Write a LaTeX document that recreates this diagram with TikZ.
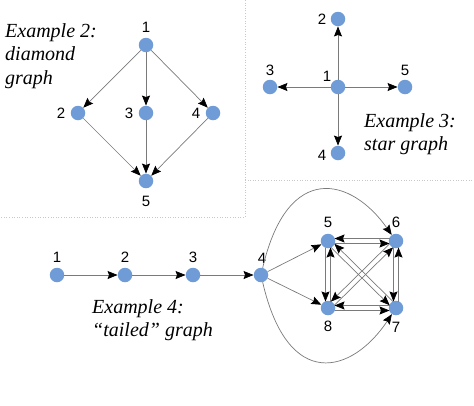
\documentclass[tikz,border=0pt]{standalone}
\usepackage{fontspec}
\setmainfont{Liberation Serif}
\newfontfamily\numfont{Liberation Sans}
\usetikzlibrary{arrows.meta,calc}
\definecolor{nodeblue}{HTML}{6F9BD6}
\definecolor{edgegray}{HTML}{7A7A7A}
\definecolor{boxgray}{HTML}{C8C8C8}
\tikzset{
  vtx/.style={circle,fill=nodeblue,draw=none,minimum size=14.5pt,inner sep=0pt},
  num/.style={font=\numfont\fontsize{15}{15}\selectfont,inner sep=0pt},
  caption/.style={font=\fontsize{20}{23.5}\selectfont\itshape,align=left,anchor=west,inner sep=0pt},
  edge/.style={draw=edgegray,line width=0.7pt,-{Stealth[length=10pt,width=8pt,inset=1.5pt,black]}},
  sep/.style={draw=boxgray,line width=0.6pt,dotted}
}
\newcommand{\biedge}[2]{%
  \draw[edge,shorten <=6.5pt,shorten >=6.5pt] ($(#1.center)!2.5pt!-90:(#2.center)$) -- ($(#2.center)!2.5pt!90:(#1.center)$);}
\begin{document}
\begin{tikzpicture}[x=1pt,y=-1pt]
\useasboundingbox (0,0) rectangle (474,405);
% separators
\coordinate (bx1) at (245,0);
\coordinate (bx2) at (245,217);
\coordinate (bx3) at (0,217);
\coordinate (bx4) at (245,180);
\coordinate (bx5) at (474,180);
\draw[sep] (bx1) -- (bx2) -- (bx3);
\draw[sep] (bx4) -- (bx5);

% Example 2: diamond
\node[vtx] (d1) at (146,45) {};
\node[vtx] (d2) at (78,113) {};
\node[vtx] (d3) at (146,113) {};
\node[vtx] (d4) at (213,113) {};
\node[vtx] (d5) at (146,181) {};
\node[num] (ld1) at (146,27) {1};
\node[num] (ld2) at (61,113) {2};
\node[num] (ld3) at (129,113) {3};
\node[num] (ld4) at (196,113) {4};
\node[num] (ld5) at (146,201) {5};
\draw[edge] (d1) -- (d2);
\draw[edge] (d1) -- (d3);
\draw[edge] (d1) -- (d4);
\draw[edge] (d2) -- (d5);
\draw[edge] (d3) -- (d5);
\draw[edge] (d4) -- (d5);
\node[caption] (c2) at (5,56) {Example 2:\\diamond\\graph};

% Example 3: star
\node[vtx] (s1) at (338,87) {};
\node[vtx] (s2) at (338,19) {};
\node[vtx] (s3) at (270,87) {};
\node[vtx] (s4) at (338,153) {};
\node[vtx] (s5) at (405,87) {};
\node[num] (ls1) at (327,76) {1};
\node[num] (ls2) at (322,19) {2};
\node[num] (ls3) at (270,70) {3};
\node[num] (ls4) at (322,155) {4};
\node[num] (ls5) at (405,70) {5};
\draw[edge] (s1) -- (s2);
\draw[edge] (s1) -- (s3);
\draw[edge] (s1) -- (s4);
\draw[edge] (s1) -- (s5);
\node[caption] (c3) at (364,134) {Example 3:\\star graph};

% Example 4: tailed
\node[vtx] (t1) at (57,275) {};
\node[vtx] (t2) at (125,275) {};
\node[vtx] (t3) at (193,275) {};
\node[vtx] (t4) at (261,275) {};
\node[vtx] (t5) at (328,241) {};
\node[vtx] (t6) at (396,241) {};
\node[vtx] (t7) at (396,308) {};
\node[vtx] (t8) at (328,308) {};
\node[num] (lt1) at (57,257) {1};
\node[num] (lt2) at (125,257) {2};
\node[num] (lt3) at (193,257) {3};
\node[num] (lt4) at (262,258) {4};
\node[num] (lt5) at (328,222) {5};
\node[num] (lt6) at (396,222) {6};
\node[num] (lt7) at (396,327) {7};
\node[num] (lt8) at (328,326) {8};
\draw[edge] (t1) -- (t2);
\draw[edge] (t2) -- (t3);
\draw[edge] (t3) -- (t4);
\draw[edge] (t4) -- (t5);
\draw[edge] (t4) -- (t8);
\draw[edge] (t4) .. controls (288,160) and (352,178) .. (t6);
\draw[edge] (t4) .. controls (288,392) and (352,374) .. (t7);
\biedge{t5}{t6}\biedge{t6}{t5}
\biedge{t6}{t7}\biedge{t7}{t6}
\biedge{t7}{t8}\biedge{t8}{t7}
\biedge{t8}{t5}\biedge{t5}{t8}
\biedge{t5}{t7}\biedge{t7}{t5}
\biedge{t6}{t8}\biedge{t8}{t6}
\node[caption] (c4) at (92,320) {Example 4:\\``tailed'' graph};
\end{tikzpicture}
\end{document}
